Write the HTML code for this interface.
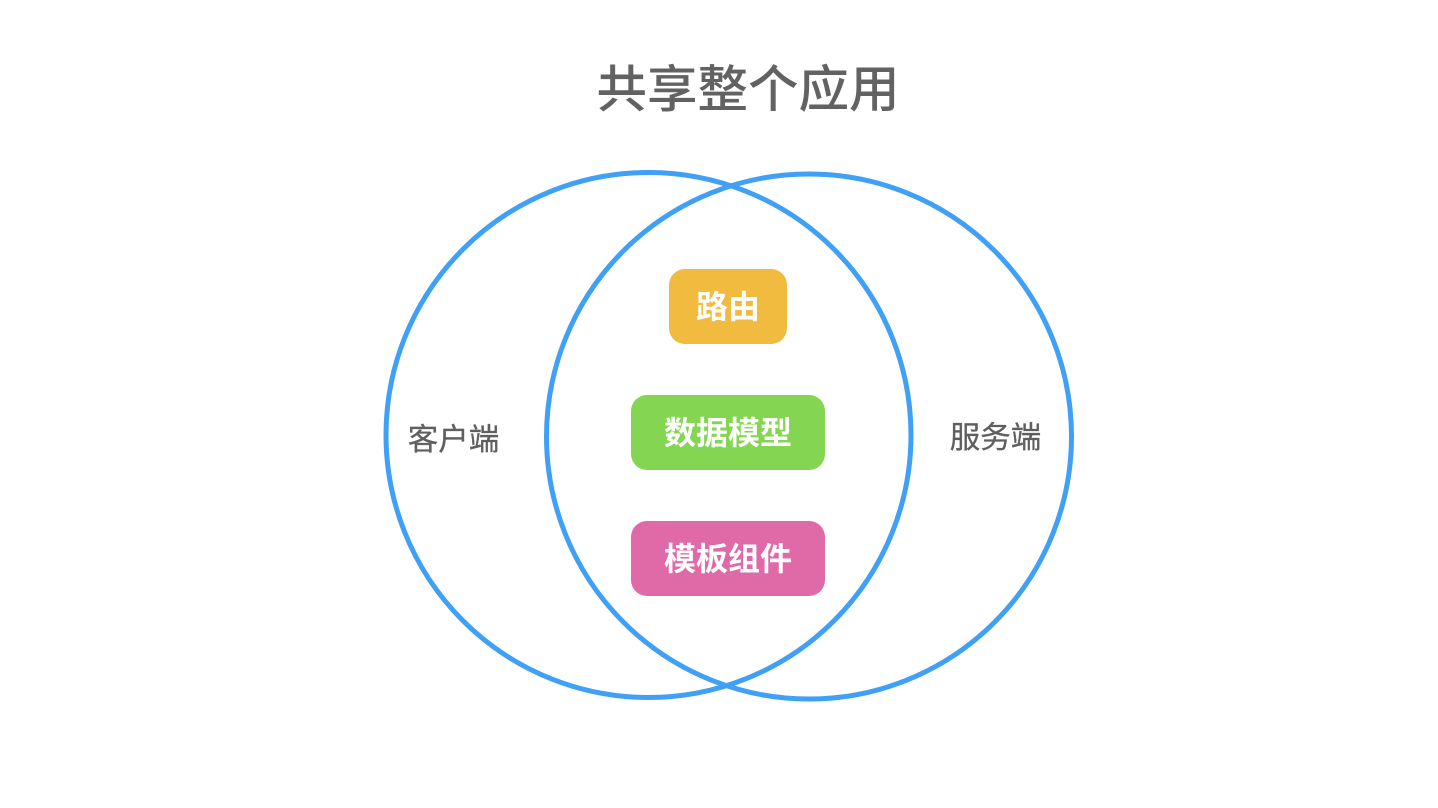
<!DOCTYPE html>
<html>
<head>
<meta charset="utf-8">
<style>
html,body{margin:0;padding:0;background:#fff;width:1438px;height:808px;overflow:hidden}
svg{display:block}
text{font-family:"Liberation Sans","Noto Sans CJK SC",sans-serif;text-anchor:middle}
</style>
</head>
<body>
<svg width="1438" height="808" viewBox="0 0 1438 808" xmlns="http://www.w3.org/2000/svg">
<rect width="1438" height="808" fill="#fff"/>
<text x="748" y="107" font-size="50.500" fill="#626262" font-weight="500">共享整个应用</text>
<ellipse cx="648.500" cy="435" rx="262.500" ry="262.500" fill="none" stroke="#3fa0f5" stroke-width="5"/>
<ellipse cx="809" cy="436.500" rx="262.500" ry="262.500" fill="none" stroke="#3fa0f5" stroke-width="5"/>
<rect x="669" y="269" width="118" height="75" rx="16" fill="#f0bb3f"/>
<rect x="631" y="395" width="194" height="75" rx="16" fill="#84d652"/>
<rect x="631" y="521" width="194" height="75" rx="16" fill="#e069a7"/>
<text x="728" y="318" font-size="32" font-weight="700" fill="#fff">路由</text>
<text x="728" y="444" font-size="32" font-weight="700" fill="#fff">数据模型</text>
<text x="728" y="570" font-size="32" font-weight="700" fill="#fff">模板组件</text>
<text x="453.500" y="450" font-size="30.500" fill="#5f5f5f" stroke="#5f5f5f" stroke-width="0.300">客户端</text>
<text x="995.500" y="448" font-size="30.500" fill="#5f5f5f" stroke="#5f5f5f" stroke-width="0.300">服务端</text>
</svg>
</body>
</html>
